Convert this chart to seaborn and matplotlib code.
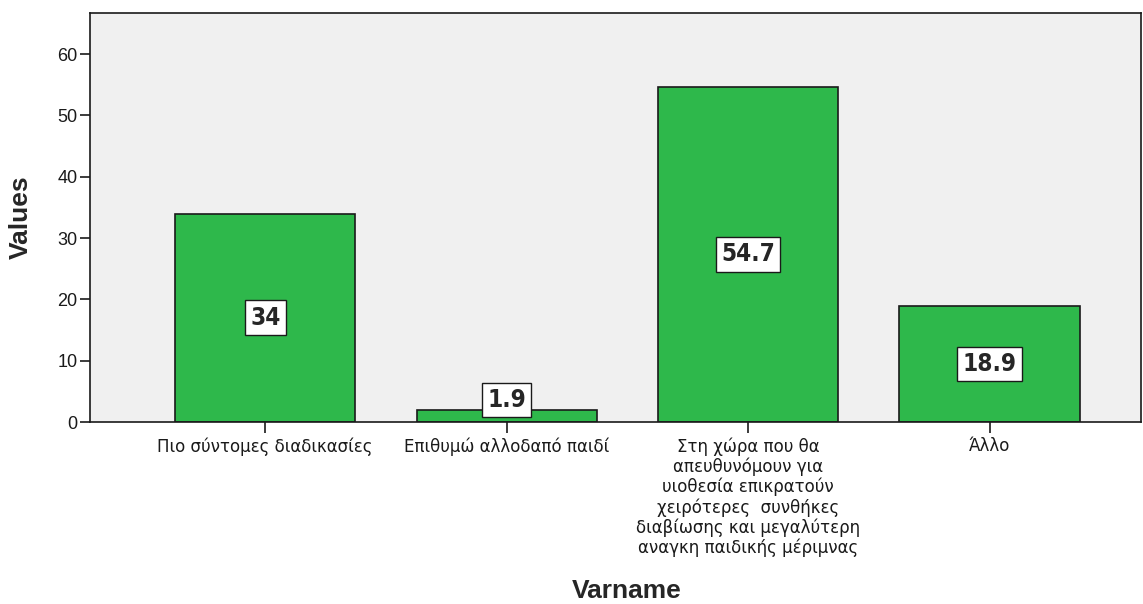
import pandas as pd
import matplotlib
matplotlib.use('Agg')
import matplotlib.pyplot as plt
import seaborn as sns

# Data
categories = [
    'Πιο σύντομες διαδικασίες',
    'Επιθυμώ αλλοδαπό παιδί',
    'Στη χώρα που θα\nαπευθυνόμουν για\nυιοθεσία επικρατούν\nχειρότερες  συνθήκες\nδιαβίωσης και μεγαλύτερη\nαναγκη παιδικής μέριμνας',
    'Άλλο',
]
values = [34, 1.9, 54.7, 18.9]
value_labels = ['34', '1.9', '54.7', '18.9']
yticks = [0, 10, 20, 30, 40, 50, 60]

df = pd.DataFrame({'Varname': categories, 'Values': values})

sns.set_style('ticks')
plt.rcParams['font.family'] = ['Liberation Sans', 'DejaVu Sans']

fig = plt.figure(figsize=(11.43, 6.04), dpi=100)
ax = fig.add_axes([0.0787, 0.3013, 0.9195, 0.6772])
ax.set_facecolor('#f0f0f0')

sns.barplot(data=df, x='Varname', y='Values', color='#2eb84b', saturation=1,
            width=0.747, edgecolor='#1a1a1a', linewidth=1.2, ax=ax)

# value boxes, centred in the bar (placed just above for very short bars)
for i, (v, lab) in enumerate(zip(values, value_labels)):
    ypos = v / 2 if v > 5 else v + 1.7
    ax.text(i, ypos, lab, ha='center', va='center', fontsize=17.5, fontweight='bold',
            fontstretch='condensed', family=['DejaVu Sans'],
            bbox=dict(boxstyle='square,pad=0.22', facecolor='white', edgecolor='#1a1a1a', linewidth=1))

ax.set_xlim(-0.726, 3.627)
ax.set_ylim(0, 66.7)
ax.set_yticks(yticks)
ax.tick_params(axis='y', direction='out', length=7, width=1.2, labelsize=13, colors='#1a1a1a', pad=2)
ax.tick_params(axis='x', direction='out', length=8, width=1.2, colors='#1a1a1a', pad=3)
for lbl in ax.get_xticklabels():
    lbl.set_family(['DejaVu Sans'])
    lbl.set_fontsize(12)
    lbl.set_linespacing(1.12)
for s in ax.spines.values():
    s.set_color('#1a1a1a')
    s.set_linewidth(1.2)

ax.set_ylabel('Values', fontsize=19, fontweight='bold')
ax.set_xlabel('Varname', fontsize=19, fontweight='bold')
ax.yaxis.set_label_coords(-0.054, 0.5)
ax.xaxis.set_label_coords(0.511, -0.385)

fig.savefig('out.png', dpi=100)
